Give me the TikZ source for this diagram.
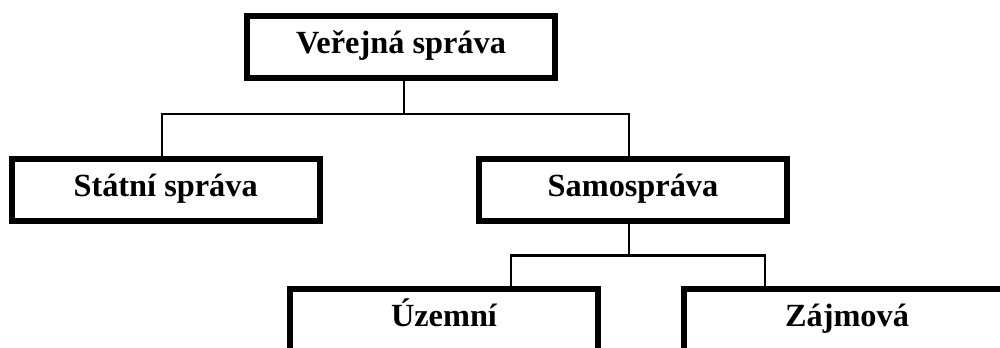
\documentclass[tikz,border=0pt]{standalone}
\usepackage{fontspec}
\setmainfont{Liberation Serif}
\begin{document}
\begin{tikzpicture}[
  box/.style={draw, line width=0.15cm, minimum width=7.7cm, minimum height=1.55cm,
    text height=1em, text depth=0.02em,
    font=\fontsize{23}{27}\selectfont\bfseries},
  conn/.style={line width=0.07cm}]
\useasboundingbox (0,0) rectangle (25,-8.675);
\clip (0,0) rectangle (25,-8.675);
\node[box](vs) at (10.025,-1.175) {Veřejná správa};
\node[box](ss) at (4.14,-4.74) {Státní správa};
\node[box](sam) at (15.825,-4.74) {Samospráva};
\node[box](uz) at (11.1,-8.0) {Územní};
\node[box, minimum width=8.15cm](za) at (21.175,-8.0) {Zájmová};
%
\draw[conn]([xshift=0.075cm]vs.south) -- ++(0,-0.825) coordinate (j1);
\draw[conn]([xshift=-0.09cm]ss.north) |- (j1) -| ([xshift=-0.1cm]sam.north);
\draw[conn]([xshift=-0.1cm]sam.south) -- ++(0,-0.8) coordinate (j2);
\draw[conn]([xshift=1.675cm]uz.north) |- (j2) -| ([xshift=-2.05cm]za.north);
\end{tikzpicture}
\end{document}
